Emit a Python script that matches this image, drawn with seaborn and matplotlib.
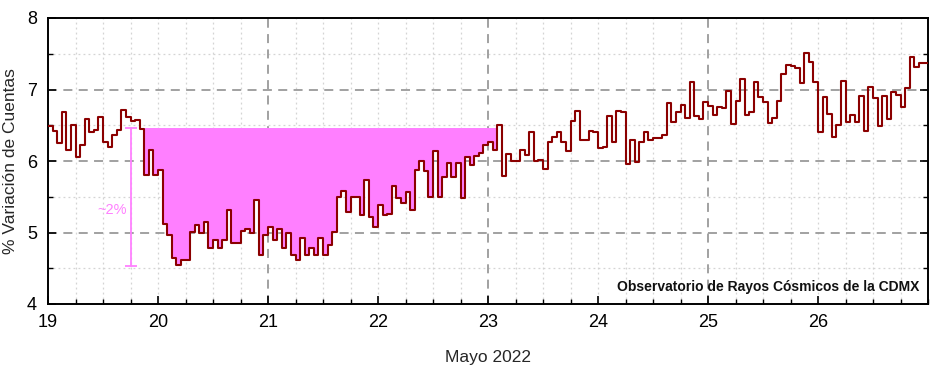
import numpy as np
import matplotlib
matplotlib.use("Agg")
import matplotlib.pyplot as plt
import seaborn as sns
from matplotlib.ticker import MultipleLocator

# hourly % variation of counts, May 2022 (one list per day, 24 values each)
day19 = [6.49, 6.42, 6.25, 6.68, 6.15, 6.51, 6.06, 6.22, 6.59, 6.40, 6.44, 6.61,
         6.27, 6.20, 6.37, 6.44, 6.71, 6.61, 6.56, 6.57, 6.45, 5.80, 6.15, 5.80]
day20 = [5.87, 5.12, 4.97, 4.64, 4.55, 4.62, 4.62, 5.01, 5.10, 4.99, 5.14, 4.78,
         4.90, 4.79, 4.90, 5.32, 4.86, 4.86, 5.02, 5.05, 4.99, 5.45, 4.69, 4.97]
day21 = [5.07, 4.90, 5.05, 4.78, 4.99, 4.69, 4.61, 4.93, 4.69, 4.79, 4.68, 4.92,
         4.68, 4.82, 5.01, 5.49, 5.58, 5.28, 5.49, 5.49, 5.24, 5.73, 5.21, 5.07]
day22 = [5.39, 5.24, 5.26, 5.65, 5.48, 5.41, 5.56, 5.31, 5.88, 6.00, 5.86, 5.49,
         6.14, 5.49, 5.78, 5.97, 5.78, 5.97, 5.48, 6.05, 5.95, 6.07, 6.11, 6.23]
day23 = [6.26, 6.15, 6.50, 5.79, 6.10, 6.00, 6.00, 6.16, 6.09, 6.41, 6.00, 6.01,
         5.89, 6.27, 6.34, 6.40, 6.27, 6.14, 6.56, 6.70, 6.30, 6.30, 6.42, 6.41]
day24 = [6.18, 6.19, 6.63, 6.26, 6.70, 6.68, 5.96, 6.30, 5.98, 6.27, 6.40, 6.30,
         6.32, 6.32, 6.37, 6.81, 6.55, 6.68, 6.79, 6.60, 7.11, 6.63, 6.59, 6.82]
day25 = [6.77, 6.64, 6.76, 6.74, 6.98, 6.52, 6.84, 7.14, 6.64, 6.68, 7.10, 6.90,
         6.82, 6.53, 6.60, 6.84, 7.21, 7.34, 7.33, 7.30, 7.09, 7.51, 7.39, 7.11]
day26 = [6.40, 6.89, 6.66, 6.34, 6.50, 7.12, 6.54, 6.65, 6.54, 6.91, 6.42, 7.04,
         6.88, 6.49, 6.91, 6.59, 6.96, 6.92, 6.75, 7.02, 7.46, 7.32, 7.37, 7.37]

x_tick_labels = ["19", "20", "21", "22", "23", "24", "25", "26"]
y_tick_labels = ["4", "5", "6", "7", "8"]

# Forbush decrease annotation
decrease_level = 6.46
decrease_start = 19.875
decrease_end = 23.08
arrow_x = 19.75
arrow_low = 4.53
arrow_label = "~2%"

values = np.array(day19 + day20 + day21 + day22 + day23 + day24 + day25 + day26)
t = 19 + np.arange(len(values)) / 24.0
t_plot = np.append(t, 27.0)
v_plot = np.append(values, values[-1])

sns.set_theme(style="white")
plt.rcParams['font.family'] = ['Liberation Sans', 'DejaVu Sans']

fig = plt.figure(figsize=(9.38, 3.66), dpi=100)
ax = fig.add_axes([48 / 938, 1 - 304 / 366, 880 / 938, 286 / 366])

# grid
for xv in np.arange(19.25, 27.0, 0.25):
    if abs(xv - round(xv)) < 1e-9 and int(round(xv)) in (21, 23, 25):
        ax.axvline(xv, color='#9a9a9a', lw=1.3, ls=(0, (5, 3.5)), zorder=0.5)
    else:
        ax.axvline(xv, color='#d4d4d4', lw=0.9, ls=(0, (1.5, 2.5)), zorder=0.4)
for yv in np.arange(4.5, 8.0, 0.5):
    if abs(yv - round(yv)) < 1e-9:
        ax.axhline(yv, color='#9a9a9a', lw=1.3, ls=(0, (5, 3.5)), zorder=0.5)
    else:
        ax.axhline(yv, color='#d4d4d4', lw=0.9, ls=(0, (1.5, 2.5)), zorder=0.4)

# fill of the decrease
mask = (t_plot >= decrease_start) & (t_plot < decrease_end)
fill_y = np.where(mask, np.minimum(v_plot, decrease_level), decrease_level)
ax.fill_between(t_plot, fill_y, decrease_level, step='post', color='#ff7fff',
                lw=0, zorder=1)

# series
sns.lineplot(x=t_plot, y=v_plot, drawstyle='steps-post', color='#8b0000',
             lw=1.5, ax=ax, estimator=None, zorder=3)

# amplitude marker
ax.plot([arrow_x, arrow_x], [arrow_low, decrease_level], color='#ff80ff', lw=1.3,
        marker='_', markersize=8, markeredgewidth=1.3, zorder=2)
ax.text(arrow_x - 0.03, 5.31, arrow_label, color='#ff80ff', fontsize=10.5,
        ha='right', va='center')

ax.text(0.99, 0.06, "Observatorio de Rayos Cósmicos de la CDMX", transform=ax.transAxes,
        ha='right', va='center', fontsize=10, fontweight='bold', color='#111111')

ax.set_xlim(19, 27)
ax.set_ylim(4, 8)
ax.set_xticks(np.arange(19, 27))
ax.set_xticklabels(x_tick_labels)
ax.set_yticks(np.arange(4, 9))
ax.set_yticklabels(y_tick_labels)
ax.xaxis.set_minor_locator(MultipleLocator(0.25))
ax.yaxis.set_minor_locator(MultipleLocator(0.5))
ax.tick_params(which='both', direction='in', left=True, right=True, bottom=True,
               top=False, colors='black', labelsize=13)
ax.tick_params(which='major', length=6, width=1.2)
ax.tick_params(which='minor', length=3.5, width=1.0)
ax.tick_params(axis='x', which='major', pad=7)
ax.tick_params(axis='y', which='major', pad=8)
for s in ax.spines.values():
    s.set_color('black')
    s.set_linewidth(1.4)

ax.set_xlabel("Mayo 2022", fontsize=12.5, labelpad=14)
ax.set_ylabel("% Variación de Cuentas", fontsize=12.5, labelpad=6)

fig.savefig("out.png", dpi=100)
